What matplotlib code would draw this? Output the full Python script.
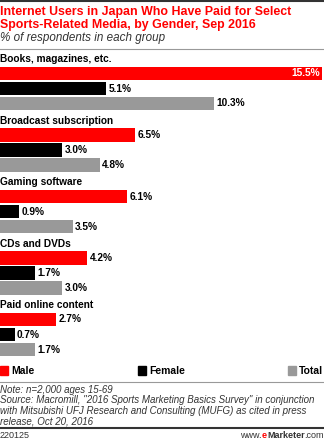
import matplotlib.pyplot as plt
from matplotlib.patches import Rectangle

plt.rcParams['font.family'] = ['Liberation Sans', 'DejaVu Sans']

categories = ['Books, magazines, etc.', 'Broadcast subscription', 'Gaming software',
              'CDs and DVDs', 'Paid online content']
male = [15.5, 6.5, 6.1, 4.2, 2.7]
female = [5.1, 3.0, 0.9, 1.7, 0.7]
total = [10.3, 4.8, 3.5, 3.0, 1.7]
series_names = ['Male', 'Female', 'Total']
colors = ['#ff0000', '#000000', '#999999']

W, H = 324, 440
fig = plt.figure(figsize=(W/100, H/100), dpi=100)

def fy(px):
    return 1 - px/H

# top rule + title
fig.add_artist(plt.Line2D([0, 1], [fy(1), fy(1)], color='#333333', lw=1.5))
fig.text(0, fy(12), 'Internet Users in Japan Who Have Paid for Select', color='#ff0000',
         fontsize=8.9, fontweight='bold', va='center', ha='left')
fig.text(0, fy(25), 'Sports-Related Media, by Gender, Sep 2016', color='#ff0000',
         fontsize=8.9, fontweight='bold', va='center', ha='left')
fig.text(0, fy(38), '% of respondents in each group', color='#333333',
         fontsize=8.4, style='italic', va='center', ha='left')
fig.add_artist(plt.Line2D([0, 1], [fy(49.5), fy(49.5)], color='#999999', lw=0.8))

# bars
pitch = 4.1
top_px, bot_px = 66, 357
ax = fig.add_axes([0, fy(bot_px), 322/W, (bot_px - top_px)/H])
for i, cat in enumerate(categories):
    base = i*pitch
    for j, vals in enumerate([male, female, total]):
        v = vals[i]
        ax.barh(base + j, v, height=0.93, color=colors[j], linewidth=0)
        if v > 12:
            ax.text(v - 0.1, base + j, f'{v:.1f}%', color='white', fontsize=7.3,
                    fontweight='bold', ha='right', va='center')
        else:
            ax.text(v + 0.12, base + j, f'{v:.1f}%', color='black', fontsize=7.3,
                    fontweight='bold', ha='left', va='center')
    ax.text(0, base - 0.95, cat, fontsize=7.3, fontweight='bold', ha='left',
            va='center', clip_on=False)
ax.set_xlim(0, 15.5)
ax.set_ylim(4*pitch + 2.5, -0.5)
ax.axis('off')

# legend
leg_x = [0, 138, 288]
for x, name, c in zip(leg_x, series_names, colors):
    fig.add_artist(Rectangle((x/W, fy(375)), 8/W, 9/H, color=c, transform=fig.transFigure))
    fig.text((x + 11)/W, fy(370.5), name, fontsize=7.5, fontweight='bold', va='center', ha='left')
fig.add_artist(plt.Line2D([0, 1], [fy(382), fy(382)], color='#999999', lw=0.8))

# notes
notes = ['Note: n=2,000 ages 15-69',
         'Source: Macromill, "2016 Sports Marketing Basics Survey" in conjunction',
         'with Mitsubishi UFJ Research and Consulting (MUFG) as cited in press',
         'release, Oct 20, 2016']
for k, line in enumerate(notes):
    fig.text(0, fy(389.5 + k*10.5), line, fontsize=7, style='italic', color='#333333',
             va='center', ha='left')
fig.add_artist(plt.Line2D([0, 1], [fy(428), fy(428)], color='#333333', lw=1.5))
fig.text(0, fy(435.5), '220125', fontsize=6.5, color='#333333', va='center', ha='left')
footer = fig.text(1, fy(435.5), '.com', fontsize=6.5, color='#333333', va='center', ha='right')
fig.canvas.draw()
r = fig.canvas.get_renderer()
bb = footer.get_window_extent(r)
mk = fig.text(bb.x0/W, fy(435.5), 'Marketer', fontsize=6.5, fontweight='bold',
              color='#333333', va='center', ha='right')
bb = mk.get_window_extent(r)
e = fig.text(bb.x0/W, fy(435.5), 'e', fontsize=6.5, fontweight='bold',
             color='#ff0000', va='center', ha='right')
bb = e.get_window_extent(r)
fig.text(bb.x0/W, fy(435.5), 'www.', fontsize=6.5, color='#333333', va='center', ha='right')

fig.savefig('out.png', dpi=100)
